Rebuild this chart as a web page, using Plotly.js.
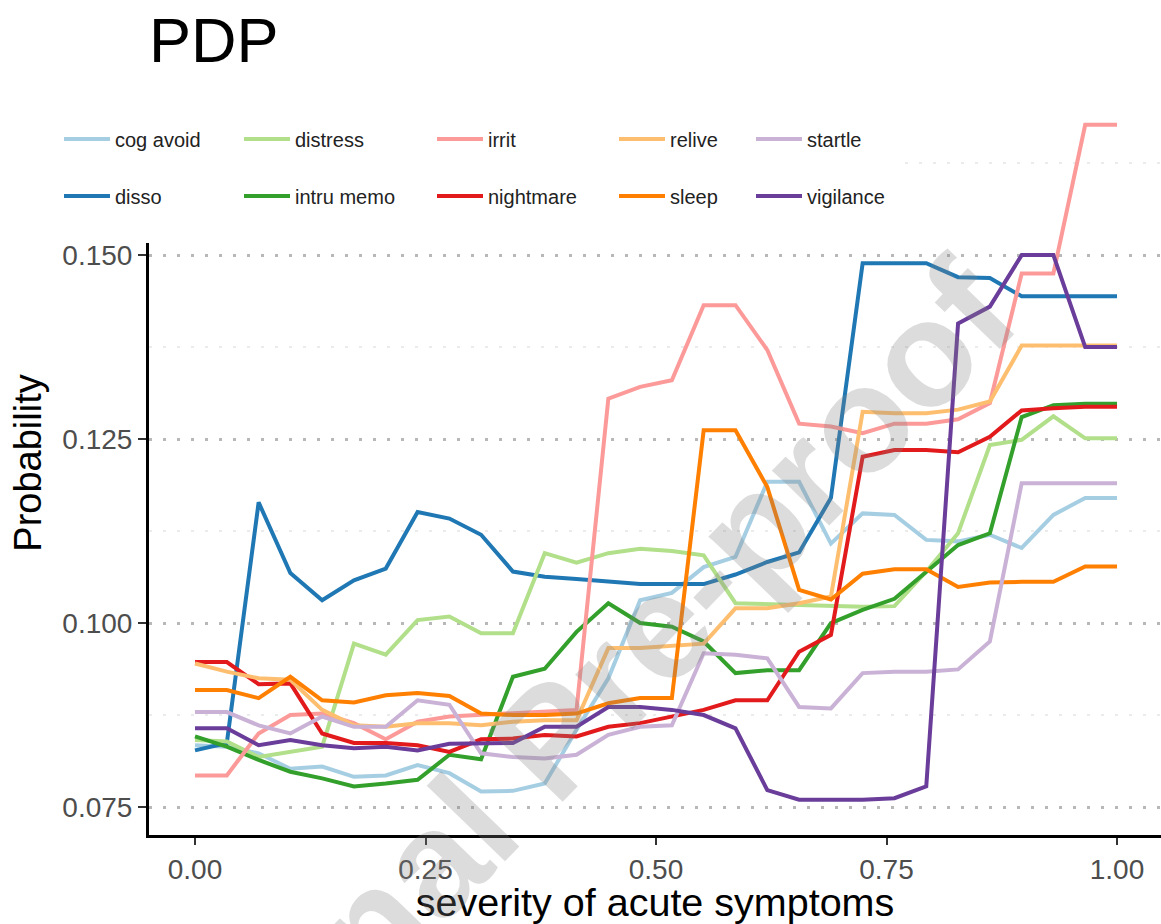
<!DOCTYPE html>
<html><head><meta charset="utf-8">
<script src="https://cdn.plot.ly/plotly-3.0.1.min.js"></script>
<style>html,body{margin:0;padding:0;background:#fff}#chart{width:1161px;height:924px}</style>
</head><body><div id="chart"></div>
<script>
// ---- data ----
const severity = [0, 0.0345, 0.069, 0.1034, 0.1379, 0.1724, 0.2069, 0.2414, 0.2759, 0.3103, 0.3448, 0.3793, 0.4138, 0.4483, 0.4828, 0.5172, 0.5517, 0.5862, 0.6207, 0.6552, 0.6897, 0.7241, 0.7586, 0.7931, 0.8276, 0.8621, 0.8966, 0.931, 0.9655, 1];

const seriesNames = ['cog avoid', 'disso', 'distress', 'intru memo', 'irrit', 'nightmare', 'relive', 'sleep', 'startle', 'vigilance'];

const cogAvoid  = [0.0834,0.0832,0.0823,0.0802,0.0805,0.0791,0.0793,0.0807,0.0796,0.0771,0.0772,0.0782,0.0855,0.0925,0.1031,0.1041,0.1076,0.1090,0.1192,0.1192,0.1108,0.1149,0.1147,0.1113,0.1111,0.1120,0.1102,0.1147,0.1170,0.1170];
const disso     = [0.0827,0.0837,0.1164,0.1068,0.1031,0.1058,0.1074,0.1151,0.1142,0.1120,0.1070,0.1063,0.1060,0.1056,0.1053,0.1053,0.1053,0.1066,0.1083,0.1096,0.1170,0.1489,0.1489,0.1489,0.1470,0.1469,0.1444,0.1444,0.1444,0.1444];
const distress  = [0.0841,0.0839,0.0818,0.0825,0.0832,0.0972,0.0957,0.1004,0.1009,0.0986,0.0986,0.1095,0.1082,0.1095,0.1101,0.1098,0.1092,0.1027,0.1026,0.1025,0.1024,0.1022,0.1023,0.1070,0.1122,0.1242,0.1249,0.1281,0.1251,0.1251];
const intruMemo = [0.0846,0.0832,0.0814,0.0798,0.0789,0.0778,0.0782,0.0787,0.0821,0.0815,0.0927,0.0938,0.0988,0.1027,0.1000,0.0995,0.0975,0.0932,0.0936,0.0936,0.1000,0.1018,0.1033,0.1070,0.1106,0.1122,0.1280,0.1296,0.1298,0.1298];
const irrit     = [0.0793,0.0793,0.0850,0.0875,0.0877,0.0864,0.0842,0.0866,0.0873,0.0875,0.0877,0.0879,0.0882,0.1305,0.1321,0.1330,0.1432,0.1432,0.1371,0.1271,0.1267,0.1258,0.1271,0.1271,0.1277,0.1299,0.1475,0.1475,0.1677,0.1677];
const nightmare = [0.0947,0.0947,0.0917,0.0918,0.0850,0.0837,0.0837,0.0834,0.0825,0.0842,0.0843,0.0848,0.0846,0.0859,0.0864,0.0873,0.0882,0.0895,0.0895,0.0961,0.0984,0.1226,0.1235,0.1235,0.1232,0.1253,0.1289,0.1292,0.1294,0.1294];
const relive    = [0.0945,0.0934,0.0925,0.0923,0.0882,0.0861,0.0859,0.0864,0.0864,0.0861,0.0866,0.0868,0.0868,0.0966,0.0966,0.0969,0.0972,0.1020,0.1020,0.1027,0.1036,0.1287,0.1285,0.1285,0.1290,0.1301,0.1377,0.1377,0.1377,0.1377];
const sleep     = [0.0909,0.0909,0.0898,0.0927,0.0895,0.0892,0.0902,0.0905,0.0901,0.0877,0.0875,0.0875,0.0877,0.0891,0.0898,0.0898,0.1262,0.1262,0.1185,0.1045,0.1032,0.1067,0.1073,0.1073,0.1049,0.1055,0.1056,0.1056,0.1077,0.1077];
const startle   = [0.0879,0.0879,0.0861,0.0850,0.0873,0.0859,0.0859,0.0895,0.0889,0.0823,0.0818,0.0816,0.0821,0.0848,0.0859,0.0861,0.0959,0.0957,0.0952,0.0886,0.0884,0.0932,0.0934,0.0934,0.0937,0.0975,0.1190,0.1190,0.1190,0.1190];
const vigilance = [0.0857,0.0857,0.0834,0.0841,0.0834,0.0830,0.0832,0.0827,0.0836,0.0836,0.0837,0.0859,0.0859,0.0886,0.0886,0.0882,0.0875,0.0857,0.0773,0.0760,0.0760,0.0760,0.0762,0.0778,0.1407,0.1430,0.1500,0.1500,0.1375,0.1375];

const seriesValues = [cogAvoid, disso, distress, intruMemo, irrit, nightmare, relive, sleep, startle, vigilance];
const seriesColors = ['#A6CEE3', '#1F78B4', '#B2DF8A', '#33A02C', '#FB9A99', '#E31A1C', '#FDBF6F', '#FF7F00', '#CAB2D6', '#6A3D9A'];

const xTickVals = [0, 0.25, 0.5, 0.75, 1];
const xTickText = ['0.00', '0.25', '0.50', '0.75', '1.00'];
const yTickVals = [0.075, 0.100, 0.125, 0.150];
const yTickText = ['0.075', '0.100', '0.125', '0.150'];
const yMinorVals = [0.0875, 0.1125, 0.1375, 0.1625];

const chartTitle = 'PDP';
const xTitle = 'severity of acute symptoms';
const yTitle = 'Probability';
const watermark = 'Journal Pre-proof';

// ---- layout geometry (pixels) ----
const W = 1161, H = 924;
const M = {l: 149, r: 0, t: 91, b: 89, autoexpand: false};
const PW = W - M.l - M.r, PH = H - M.t - M.b;
const px2x = px => (px - M.l) / PW;
const py2y = py => (H - M.b - py) / PH;
const FONT = 'Liberation Sans, Arial, Helvetica, sans-serif';
const legendTextX = [115, 295, 488, 670, 807];
const legendRowY = [139, 196];
const ITEMW = 46;

const traces = [];
const layout = {
  width: W, height: H, margin: M,
  paper_bgcolor: '#fff', plot_bgcolor: '#fff',
  font: {family: FONT, color: '#222'},
  title: {text: chartTitle, font: {size: 63, color: '#000', family: FONT},
          xref: 'container', yref: 'container', x: 149 / W, xanchor: 'left', y: 1 - 40 / H, yanchor: 'middle'},
  xaxis: {
    range: [-0.0499, 1.0477], tickmode: 'array', tickvals: xTickVals, ticktext: xTickText,
    showgrid: false, zeroline: false, showline: true, linecolor: '#000', linewidth: 3,
    ticks: 'outside', ticklen: 7, tickwidth: 2, tickcolor: '#333',
    tickfont: {size: 28, color: '#4d4d4d', family: FONT},
    title: {text: xTitle, font: {size: 39.5, color: '#000', family: FONT}, standoff: 7},
    automargin: true
  },
  yaxis: {
    range: [0.0712, 0.1723], tickmode: 'array', tickvals: yTickVals, ticktext: yTickText,
    showgrid: true, gridcolor: '#b8b8b8', gridwidth: 3, griddash: '3px,11px',
    minor: {tickmode: 'array', tickvals: yMinorVals, showgrid: true, gridcolor: '#ebebeb', gridwidth: 1.5, ticks: ''},
    zeroline: false, showline: true, linecolor: '#000', linewidth: 3,
    ticks: 'outside', ticklen: 8, tickwidth: 2, tickcolor: '#333',
    tickfont: {size: 28, color: '#4d4d4d', family: FONT},
    title: {text: yTitle, font: {size: 38, color: '#000', family: FONT}, standoff: 10},
    automargin: true
  },
  showlegend: true,
  shapes: [{type: 'rect', xref: 'paper', yref: 'paper', layer: 'above',
            x0: px2x(35), x1: px2x(900), y0: py2y(243), y1: py2y(85),
            fillcolor: '#fff', line: {width: 0}}],
  annotations: [{text: watermark, xref: 'paper', yref: 'paper',
                 x: px2x(550), y: py2y(740),
                 xanchor: 'center', yanchor: 'middle',
                 showarrow: false, textangle: -46,
                 font: {size: 150, family: FONT, color: 'rgba(128,128,128,0.28)', weight: 'bold'}}]
};

seriesNames.forEach((name, k) => {
  const key = k === 0 ? 'legend' : 'legend' + (k + 1);
  traces.push({
    type: 'scatter', mode: 'lines', name: name,
    x: severity, y: seriesValues[k],
    line: {color: seriesColors[k], width: 4},
    legend: key, hoverinfo: 'skip'
  });
  const col = Math.floor(k / 2), row = k % 2;
  layout[key] = {
    xref: 'paper', yref: 'paper',
    x: px2x(legendTextX[col] - ITEMW - 10), xanchor: 'left',
    y: py2y(legendRowY[row]), yanchor: 'middle',
    bgcolor: 'rgba(0,0,0,0)', borderwidth: 0, itemwidth: ITEMW,
    font: {size: 20, color: '#222', family: FONT}
  };
});

Plotly.newPlot('chart', traces, layout, {displayModeBar: false, staticPlot: true});
</script>
</body></html>
